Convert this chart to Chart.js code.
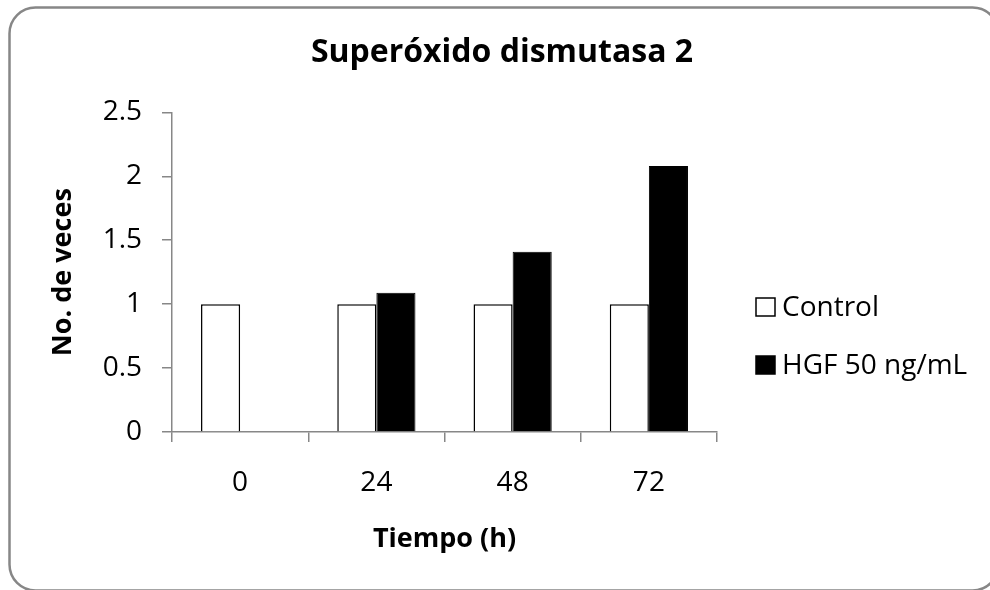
<!DOCTYPE html>
<html>
<head>
<meta charset="utf-8">
<title>Superóxido dismutasa 2</title>
<script src="https://cdn.jsdelivr.net/npm/chart.js@4.4.1/dist/chart.umd.min.js"></script>
<style>
  html, body { margin: 0; padding: 0; background: #fff; }
  #wrap { position: relative; width: 990px; height: 590px; }
</style>
</head>
<body>
<div id="wrap"><canvas id="sodChart"></canvas></div>
<script>
// tiempos de muestreo (h) y veces de expresión
const horas = ["0", "24", "48", "72"];
const control = [1, 1, 1, 1];
const hgf = [null, 1.09, 1.41, 2.08];
const yMin = 0;
const yMax = 2.5;
const yPaso = 0.5;

const fuente = "'Open Sans', 'DejaVu Sans', sans-serif";
const gris = "#878787";

// marco redondeado alrededor de todo el gráfico
const marco = {
  id: "marco",
  beforeDraw(chart) {
    const c = chart.ctx;
    c.save();
    c.fillStyle = "#fff";
    c.fillRect(0, 0, chart.width, chart.height);
    c.strokeStyle = gris;
    c.lineWidth = 2.5;
    c.beginPath();
    c.roundRect(9.5, 7.5, 989, 583, 26);
    c.stroke();
    c.restore();
  }
};

// leyenda propia: una caja a la derecha que reserva su ancho en el layout
const leyenda = {
  id: "leyenda",
  start(chart) {
    const caja = {
      position: "right",
      weight: 1000,
      fullSize: true,
      options: {},
      left: 0, top: 0, right: 0, bottom: 0, width: 0, height: 0,
      isHorizontal() { return false; },
      update(maxWidth, maxHeight) {
        this.width = 273;
        this.height = maxHeight;
      },
      draw() {
        const c = chart.ctx;
        const x = this.left + 39;
        c.save();
        c.font = "28px " + fuente;
        c.textBaseline = "middle";
        chart.data.datasets.forEach((ds, i) => {
          const y = this.top + 307 + i * 58;
          c.fillStyle = ds.backgroundColor;
          c.fillRect(x, y - 9, 19, 18);
          c.strokeStyle = ds.borderColor;
          c.lineWidth = 1.5;
          c.strokeRect(x, y - 9, 19, 18);
          c.fillStyle = "#000";
          c.fillText(ds.label, x + 26, y + 1);
        });
        c.restore();
      },
    };
    Chart.layouts.addBox(chart, caja);
  },
};

const ctx = document.getElementById("sodChart");

new Chart(ctx, {
  type: "bar",
  data: {
    labels: horas,
    datasets: [
      {
        label: "Control",
        data: control,
        backgroundColor: "#fff",
        borderColor: "#000",
        borderWidth: 1.5,
      },
      {
        label: "HGF 50 ng/mL",
        data: hgf,
        backgroundColor: "#000",
        borderColor: "#000",
        borderWidth: 1,
      },
    ],
  },
  options: {
    responsive: true,
    maintainAspectRatio: false,
    animation: false,
    datasets: {
      bar: { categoryPercentage: 0.574, barPercentage: 1 },
    },
    layout: { padding: { left: 14, right: 0, top: 0, bottom: 0 } },
    plugins: {
      title: {
        display: true,
        text: "Superóxido dismutasa 2",
        color: "#000",
        font: { family: fuente, size: 32, weight: "bold" },
        padding: { top: 34, bottom: 40 },
      },
      legend: { display: false },
      tooltip: { enabled: false },
    },
    scales: {
      x: {
        grid: { drawOnChartArea: false, drawTicks: true, tickLength: 10, color: gris, lineWidth: 1.5 },
        border: { color: gris, width: 1.5 },
        ticks: { color: "#000", font: { family: fuente, size: 28 }, padding: 24 },
        title: {
          display: true,
          text: "Tiempo (h)",
          color: "#000",
          font: { family: fuente, size: 27, weight: "bold" },
          padding: { top: 0, bottom: 34 },
        },
        afterFit(scale) { scale.height = 158; },
      },
      y: {
        min: yMin,
        max: yMax,
        grid: { drawOnChartArea: false, drawTicks: true, tickLength: 10, color: gris, lineWidth: 1.5 },
        border: { color: gris, width: 1.5 },
        ticks: {
          stepSize: yPaso,
          color: "#000",
          font: { family: fuente, size: 28 },
          padding: 20,
          callback: (v) => String(v),
        },
        title: {
          display: true,
          text: "No. de veces",
          color: "#000",
          font: { family: fuente, size: 27, weight: "bold" },
          padding: { top: 33, bottom: 0 },
        },
        afterFit(scale) { scale.width = 158; },
      },
    },
  },
  plugins: [marco, leyenda],
});
</script>
</body>
</html>
